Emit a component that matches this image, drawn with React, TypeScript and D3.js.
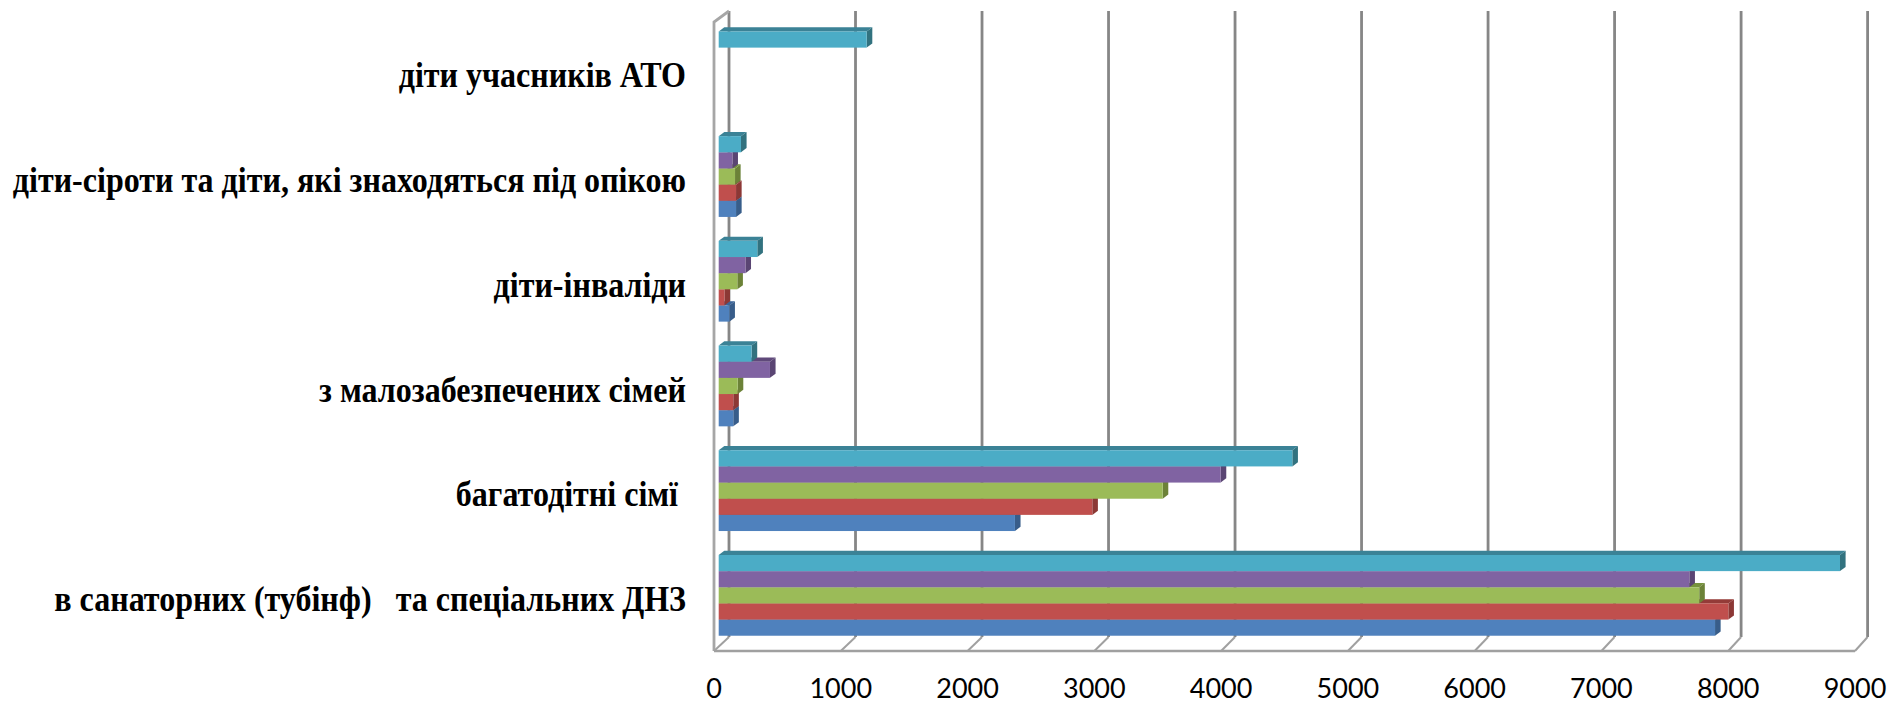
import React from "react";
import * as d3 from "d3";

const categories = [
  "в санаторних (тубінф)   та спеціальних ДНЗ",
  "багатодітні сімї ",
  "з малозабезпечених сімей",
  "діти-інваліди",
  "діти-сіроти та діти, які знаходяться під опікою",
  "діти учасників АТО",
];
const seriesA = [7870, 2340, 115, 84, 137, null];
const seriesB = [7975, 2951, 115, 45, 137, null];
const seriesC = [7745, 3507, 150, 147, 129, null];
const seriesD = [7667, 3965, 405, 211, 108, null];
const seriesE = [8857, 4531, 260, 305, 176, 1169];
const allSeries = [seriesA, seriesB, seriesC, seriesD, seriesE];
const faceColors = ["#4f81bd", "#c0504d", "#9bbb59", "#8064a2", "#4bacc6"];
const sideColors = ["#375d8a", "#8c3836", "#6c8239", "#5a4573", "#31727f"];
const capColors = ["#3b659a", "#943a37", "#76923c", "#5f497a", "#3a8296"];
const ticks = [0, 1000, 2000, 3000, 4000, 5000, 6000, 7000, 8000, 9000];

const W = 1890, H = 704;
const xBar = d3.scaleLinear().domain([0, 9000]).range([718.7, 1858.1]);
const xBack = d3.scaleLinear().domain([0, 9000]).range([729, 1867.6]);
const xFront = d3.scaleLinear().domain([0, 9000]).range([714, 1855]);
const yTop = 11, yBackFloor = 637, yFloor = 651, yFrontTop = 22;
const yCat = d3.scaleBand<number>()
  .domain(categories.map((_, i) => i).reverse())
  .range([19.5, 647.7])
  .paddingInner(24 / 105)
  .paddingOuter(12 / 105);
const ySeries = d3.scaleBand<number>()
  .domain(allSeries.map((_, i) => i).reverse())
  .range([0, yCat.bandwidth()]);
const DX = 5.6, DY = 4.2;

export default function App() {
  const bh = ySeries.bandwidth();
  return (
    <svg width={W} height={H} viewBox={`0 0 ${W} ${H}`} style={{ position: "absolute", left: 0, top: 0, background: "#fff" }}>
      <defs>
        <filter id="soft" x="-2%" y="-2%" width="104%" height="104%">
          <feGaussianBlur stdDeviation="0.45" />
        </filter>
      </defs>
      <g filter="url(#soft)">
        {ticks.map((t) => (
          <g key={t} fill="none">
            <line x1={xBack(t)} x2={xBack(t)} y1={yTop} y2={yBackFloor} strokeWidth={2.8} stroke="#868686" />
            <line x1={xBack(t)} x2={xFront(t)} y1={yBackFloor} y2={yFloor} strokeWidth={2} stroke="#a0a0a0" />
          </g>
        ))}
        <polyline points={`${xFront(0)},${yFloor} ${xFront(0)},${yFrontTop} ${xBack(0)},${yTop}`} fill="none" stroke="#a6a6a6" strokeWidth={2.8} />
        <line x1={xFront(0)} x2={xFront(9000)} y1={yFloor} y2={yFloor} stroke="#a0a0a0" strokeWidth={2.4} />
        {categories.map((_, c) => (
          <g key={c}>
            {allSeries.map((s, i) => {
              const v = s[c];
              if (v == null) return null;
              const x0 = xBar(0), x1 = xBar(v);
              const top = (yCat(c) as number) + (ySeries(i) as number);
              const bot = top + bh;
              return (
                <g key={i}>
                  <polygon points={`${x0},${top} ${x1},${top} ${x1 + DX},${top - DY} ${x0 + DX},${top - DY}`} fill={capColors[i]} />
                  <polygon points={`${x1},${top} ${x1 + DX},${top - DY} ${x1 + DX},${bot - DY} ${x1},${bot}`} fill={sideColors[i]} />
                  <rect x={x0} y={top} width={x1 - x0} height={bh} fill={faceColors[i]} />
                </g>
              );
            })}
          </g>
        ))}
      </g>
      {categories.map((c, i) => (
        <text key={c} transform={`translate(686,${(yCat(i) as number) + 56}) scale(0.89,1)`} textAnchor="end" xmlSpace="preserve" style={{ whiteSpace: "pre" }}
          fontFamily="'Liberation Serif'" fontWeight={700} fontSize={36} fill="#000">{c}</text>
      ))}
      {ticks.map((t) => (
        <text key={t} x={xFront(t)} y={698} textAnchor="middle" fontFamily="Lato" fontSize={27} fill="#000">{t}</text>
      ))}
    </svg>
  );
}
